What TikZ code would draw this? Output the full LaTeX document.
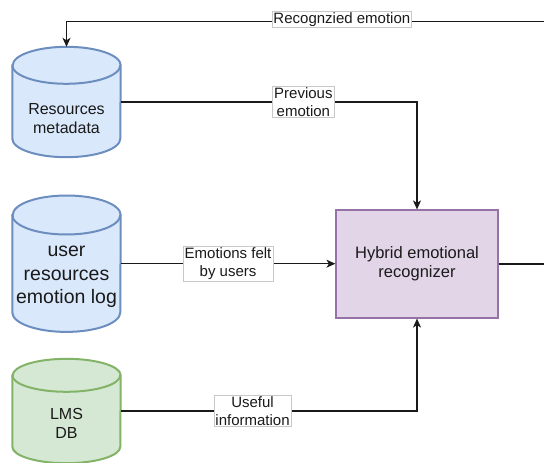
\documentclass[tikz,border=0pt]{standalone}
\usepackage{fontspec}
\setmainfont{Liberation Sans}
\usetikzlibrary{arrows.meta,calc}

\definecolor{bluefill}{HTML}{DAE8FC}
\definecolor{blueline}{HTML}{6C8EBF}
\definecolor{greenfill}{HTML}{D5E8D4}
\definecolor{greenline}{HTML}{82B366}
\definecolor{purplefill}{HTML}{E1D5E7}
\definecolor{purpleline}{HTML}{9673A6}
\definecolor{labeledge}{HTML}{C8C8C8}
\definecolor{inkcol}{HTML}{1A1A1A}

\tikzset{
  dbbody/.style={rectangle, inner sep=0pt, minimum width=108pt},
  cylline/.style={line width=2pt},
  dbtext/.style={align=center, inner sep=0pt, text=inkcol,
                 font=\fontsize{16}{19}\selectfont},
  procbox/.style={rectangle, draw=purpleline, fill=purplefill, line width=1.2pt,
                  minimum width=162pt, minimum height=108pt, align=center,
                  text=inkcol, font=\fontsize{16.5}{19}\selectfont},
  conn/.style={line width=1.3pt, draw=inkcol},
  arr/.style={conn, -{Stealth[length=9pt, width=8pt, inset=2.5pt]}},
  lbl/.style={fill=white, draw=labeledge, line width=0.6pt, align=center,
              inner xsep=1.5pt, inner ysep=1pt, text=inkcol,
              font=\fontsize{15}{18.4}\selectfont}
}

% database cylinder around a body node: #1 node, #2 cap radius, #3 colour prefix
\newcommand\dbcyl[3]{%
  \path[cylline, fill=#3fill, draw=#3line]
    ($(#1.north west)+(0,#2)$) -- ($(#1.south west)+(0,-#2)$)
    arc[start angle=180, end angle=360, x radius=54pt, y radius=#2pt]
    -- ($(#1.north east)+(0,#2)$)
    arc[start angle=0, end angle=180, x radius=54pt, y radius=#2pt] -- cycle;
  \draw[cylline, draw=#3line] ($(#1.north west)+(0,#2)$)
    arc[start angle=180, end angle=360, x radius=54pt, y radius=#2pt];
}

\begin{document}
\begin{tikzpicture}[x=1pt, y=-1pt]
\useasboundingbox (0,0) rectangle (544,463);
\clip (0,0) rectangle (544,463);

% data stores
\node[dbbody, minimum height=110pt] (meta) at (66.5,102) {};
\node[dbbody, minimum height=136pt] (log)  at (66.5,263.7) {};
\node[dbbody, minimum height=104pt] (lms)  at (66.5,411) {};
\dbcyl{meta}{18.5}{blue}
\dbcyl{log}{19.5}{blue}
\dbcyl{lms}{16.5}{green}
\node[dbtext] (meta-text) at (66.5,119) {Resources\\metadata};
\node[dbtext, font=\fontsize{19.5}{23.5}\selectfont] (log-text) at (66.5,277)
  {user\\resources\\emotion log};
\node[dbtext] (lms-text) at (66.5,423.5) {LMS\\DB};

% recognizer
\node[procbox] (hyb) at (417,264) {Hybrid emotional\\recognizer};

% inputs
\draw[arr] (meta.east) -- node[lbl, pos=0.6165] (l-prev) {Previous\\emotion}
  (hyb.north |- meta.east) -- (hyb.north);
\draw[arr] (log.east) -- node[lbl, midway] (l-felt) {Emotions felt\\by users}
  (log.east -| hyb.west);
\draw[arr] (lms.east) -- node[lbl, pos=0.445] (l-useful) {Useful\\information}
  (hyb.south |- lms.east) -- (hyb.south);

% feedback loop
\coordinate (turn) at (560,21.5);
\draw[arr] (hyb.east) -- (hyb.east -| turn) -- (turn)
  -- node[lbl, pos=0.442, yshift=2pt] (l-rec) {Recognzied emotion}
  (turn -| meta.north) -- (meta.north);
\end{tikzpicture}
\end{document}
